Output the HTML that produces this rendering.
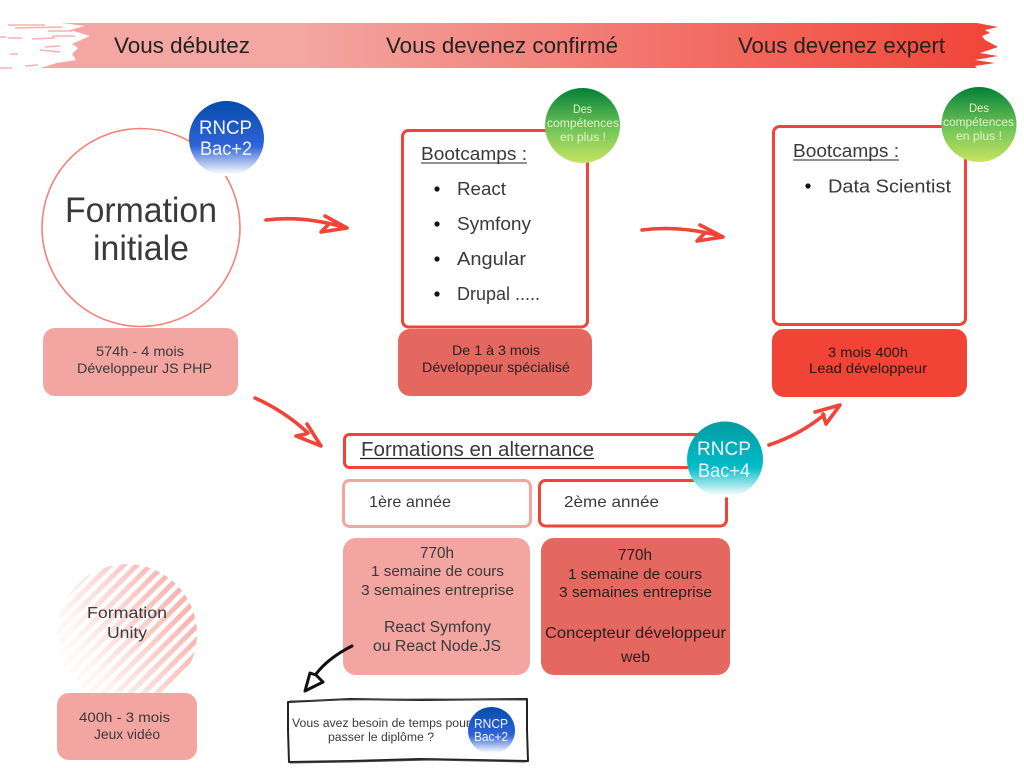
<!DOCTYPE html>
<html lang="fr">
<head>
<meta charset="utf-8">
<title>Parcours de formation</title>
<style>
html,body{margin:0;padding:0;background:#fff;width:1024px;height:768px;overflow:hidden}
svg{display:block}
text{font-family:"Liberation Sans",sans-serif;fill:#3a3a3a}
.w{fill:#f2f6ff}
.g{fill:#e4f3c8}
.arrow{fill:none;stroke:#f14336;stroke-width:3.6;stroke-linecap:round;stroke-linejoin:round}
.streak{stroke:#f3a6a2;stroke-width:1.5;opacity:.85}
</style>
</head>
<body>
<svg width="1024" height="768" viewBox="0 0 1024 768" xmlns="http://www.w3.org/2000/svg">
<defs>
<linearGradient id="ban" gradientUnits="userSpaceOnUse" x1="0" y1="0" x2="1000" y2="0">
<stop offset="0.3" stop-color="#f3a6a2"/><stop offset="1" stop-color="#f14336"/>
</linearGradient>
<linearGradient id="blue" x1="0" y1="0" x2="0" y2="1">
<stop offset="0" stop-color="#064cab"/><stop offset="0.6" stop-color="#2f63d8"/><stop offset="0.98" stop-color="#fff"/>
</linearGradient>
<linearGradient id="green" x1="0" y1="0" x2="0" y2="1">
<stop offset="0" stop-color="#038036"/><stop offset="0.55" stop-color="#72c558"/><stop offset="1" stop-color="#c7e361"/>
</linearGradient>
<linearGradient id="teal" x1="0" y1="0" x2="0" y2="1">
<stop offset="0" stop-color="#049ba3"/><stop offset="0.6" stop-color="#00bcc8"/><stop offset="0.98" stop-color="#fff"/>
</linearGradient>
<linearGradient id="fade" x1="0" y1="0.8" x2="1" y2="0.3">
<stop offset="0" stop-color="#000"/><stop offset="0.25" stop-color="#222"/><stop offset="1" stop-color="#ddd"/>
</linearGradient>
<pattern id="stripes" width="9.5" height="9.5" patternUnits="userSpaceOnUse" patternTransform="rotate(45)">
<rect width="5" height="9.5" fill="#f6a29c"/>
</pattern>
<mask id="fmask" maskUnits="userSpaceOnUse" x="50" y="560" width="155" height="150">
<rect x="57" y="564" width="140" height="140" fill="url(#fade)"/>
</mask>
</defs>

<!-- Banner -->
<polygon fill="url(#ban)" points="62,23 977,23 998,27 985,30 990,33 982,36 985,40 998,47 980,53 998,56 975,60 995,63 975,66 977,68 40,68 57,63 76,60 72,54 78,48 72,44 90,36 70,30 85,26"/>
<g class="streak">
<line x1="8" y1="25" x2="45" y2="25"/><line x1="15" y1="28" x2="62" y2="27"/><line x1="48" y1="31" x2="72" y2="31"/><line x1="0" y1="37" x2="6" y2="37"/>
<line x1="8" y1="38" x2="22" y2="38"/><line x1="32" y1="39" x2="55" y2="38"/><line x1="52" y1="36" x2="75" y2="36"/><line x1="45" y1="47" x2="60" y2="46"/>
<line x1="40" y1="50" x2="60" y2="52"/><line x1="10" y1="54" x2="18" y2="54"/><line x1="25" y1="66" x2="38" y2="65"/><line x1="0" y1="68" x2="12" y2="68"/>
</g>
<text x="114" y="53" font-size="22" textLength="136" lengthAdjust="spacingAndGlyphs" style="fill:#222">Vous débutez</text>
<text x="386" y="53" font-size="22" textLength="232" lengthAdjust="spacingAndGlyphs" style="fill:#222">Vous devenez confirmé</text>
<text x="738" y="53" font-size="22" textLength="207" lengthAdjust="spacingAndGlyphs" style="fill:#222">Vous devenez expert</text>

<!-- Formation initiale -->
<circle cx="141" cy="227.5" r="99" fill="#fff" stroke="#f4827a" stroke-width="1.6"/>
<circle cx="226.5" cy="138.5" r="37.5" fill="url(#blue)"/>
<text class="w" x="199" y="134" font-size="19.5" textLength="53" lengthAdjust="spacingAndGlyphs">RNCP</text>
<text class="w" x="200" y="155" font-size="19.5" textLength="52" lengthAdjust="spacingAndGlyphs">Bac+2</text>
<text x="65" y="222" font-size="35" textLength="152" lengthAdjust="spacingAndGlyphs">Formation</text>
<text x="93" y="260" font-size="35" textLength="96" lengthAdjust="spacingAndGlyphs">initiale</text>
<rect x="43" y="328" width="195" height="68" rx="12" fill="#f3a5a1"/>
<text x="96" y="356" font-size="14" textLength="88" lengthAdjust="spacingAndGlyphs">574h - 4 mois</text>
<text x="77" y="373" font-size="14" textLength="135" lengthAdjust="spacingAndGlyphs">Développeur JS PHP</text>

<!-- Bootcamps 1 -->
<rect x="402.5" y="130.5" width="185" height="196.5" rx="6" fill="#fff" stroke="#f14336" stroke-width="3"/>
<text x="421" y="160" font-size="18.5" textLength="106" lengthAdjust="spacingAndGlyphs">Bootcamps :</text>
<line x1="421" y1="163" x2="527" y2="163" stroke="#222" stroke-width="1"/>
<circle cx="437" cy="189" r="2.6" fill="#111"/><circle cx="437" cy="224" r="2.6" fill="#111"/>
<circle cx="437" cy="259" r="2.6" fill="#111"/><circle cx="437" cy="294" r="2.6" fill="#111"/>
<text x="457" y="195" font-size="18.5" textLength="49" lengthAdjust="spacingAndGlyphs">React</text>
<text x="457" y="230" font-size="18.5" textLength="74" lengthAdjust="spacingAndGlyphs">Symfony</text>
<text x="457" y="265" font-size="18.5" textLength="69" lengthAdjust="spacingAndGlyphs">Angular</text>
<text x="457" y="300" font-size="18.5" textLength="83" lengthAdjust="spacingAndGlyphs">Drupal .....</text>
<circle cx="582.5" cy="125.5" r="37.5" fill="url(#green)"/>
<text class="g" x="573" y="113" font-size="11.5" textLength="19" lengthAdjust="spacingAndGlyphs">Des</text>
<text class="g" x="547" y="127" font-size="11.5" textLength="72" lengthAdjust="spacingAndGlyphs">compétences</text>
<text class="g" x="560" y="141" font-size="11.5" textLength="46" lengthAdjust="spacingAndGlyphs">en plus !</text>
<rect x="398" y="329" width="194" height="67" rx="12" fill="#e46860"/>
<text x="452" y="355" font-size="14" textLength="88" lengthAdjust="spacingAndGlyphs" style="fill:#2a2020">De 1 à 3 mois</text>
<text x="422" y="372" font-size="14" textLength="148" lengthAdjust="spacingAndGlyphs" style="fill:#2a2020">Développeur spécialisé</text>

<!-- Bootcamps 2 -->
<rect x="773.5" y="126.5" width="192" height="198" rx="6" fill="#fff" stroke="#f14336" stroke-width="3"/>
<text x="793" y="157" font-size="18.5" textLength="106" lengthAdjust="spacingAndGlyphs">Bootcamps :</text>
<line x1="793" y1="160" x2="899" y2="160" stroke="#222" stroke-width="1"/>
<circle cx="808" cy="186" r="2.6" fill="#111"/>
<text x="828" y="192.5" font-size="18.5" textLength="123" lengthAdjust="spacingAndGlyphs">Data Scientist</text>
<circle cx="979" cy="124.5" r="37.5" fill="url(#green)"/>
<text class="g" x="969" y="112" font-size="11.5" textLength="20" lengthAdjust="spacingAndGlyphs">Des</text>
<text class="g" x="943" y="126" font-size="11.5" textLength="71" lengthAdjust="spacingAndGlyphs">compétences</text>
<text class="g" x="956" y="140" font-size="11.5" textLength="46" lengthAdjust="spacingAndGlyphs">en plus !</text>
<rect x="772" y="329" width="195" height="68" rx="12" fill="#f14336"/>
<text x="828" y="357" font-size="14" textLength="80" lengthAdjust="spacingAndGlyphs" style="fill:#2a1512">3 mois 400h</text>
<text x="809" y="373" font-size="14" textLength="118" lengthAdjust="spacingAndGlyphs" style="fill:#2a1512">Lead développeur</text>

<!-- Alternance -->
<rect x="344.5" y="434.5" width="380" height="33" rx="5" fill="#fff" stroke="#f14336" stroke-width="3"/>
<text x="361" y="456" font-size="20" textLength="233" lengthAdjust="spacingAndGlyphs">Formations en alternance</text>
<line x1="360" y1="458.5" x2="594" y2="458.5" stroke="#222" stroke-width="1.2"/>
<rect x="343.5" y="480.5" width="187" height="46" rx="6" fill="#fff" stroke="#f5a5a1" stroke-width="3"/>
<rect x="539.5" y="480.5" width="187" height="45.5" rx="6" fill="#fff" stroke="#f14336" stroke-width="3"/>
<text x="369" y="507" font-size="16" textLength="82" lengthAdjust="spacingAndGlyphs">1ère année</text>
<text x="564" y="507" font-size="16" textLength="95" lengthAdjust="spacingAndGlyphs">2ème année</text>
<circle cx="725" cy="459.5" r="38" fill="url(#teal)"/>
<text class="w" x="697" y="455" font-size="19.5" textLength="54" lengthAdjust="spacingAndGlyphs">RNCP</text>
<text class="w" x="698" y="477" font-size="19.5" textLength="52" lengthAdjust="spacingAndGlyphs">Bac+4</text>

<rect x="343" y="538" width="187" height="137" rx="13" fill="#f3a5a1"/>
<text x="420" y="558" font-size="15.5" textLength="34" lengthAdjust="spacingAndGlyphs">770h</text>
<text x="371" y="576" font-size="15" textLength="133" lengthAdjust="spacingAndGlyphs">1 semaine de cours</text>
<text x="361" y="595" font-size="15" textLength="153" lengthAdjust="spacingAndGlyphs">3 semaines entreprise</text>
<text x="384" y="632" font-size="15.5" textLength="107" lengthAdjust="spacingAndGlyphs">React Symfony</text>
<text x="373" y="651" font-size="15.5" textLength="128" lengthAdjust="spacingAndGlyphs">ou React Node.JS</text>

<rect x="541" y="538" width="189" height="137" rx="13" fill="#e46860"/>
<text x="618" y="560" font-size="15.5" textLength="34" lengthAdjust="spacingAndGlyphs" style="fill:#2a2020">770h</text>
<text x="568" y="579" font-size="15" textLength="134" lengthAdjust="spacingAndGlyphs" style="fill:#2a2020">1 semaine de cours</text>
<text x="559" y="597" font-size="15" textLength="153" lengthAdjust="spacingAndGlyphs" style="fill:#2a2020">3 semaines entreprise</text>
<text x="545" y="638" font-size="15.5" textLength="181" lengthAdjust="spacingAndGlyphs" style="fill:#2a2020">Concepteur développeur</text>
<text x="621" y="662" font-size="15.5" textLength="29" lengthAdjust="spacingAndGlyphs" style="fill:#2a2020">web</text>

<!-- Unity -->
<circle cx="127" cy="634" r="70" fill="url(#stripes)" mask="url(#fmask)"/>
<text x="87" y="618" font-size="16" textLength="80" lengthAdjust="spacingAndGlyphs">Formation</text>
<text x="107" y="638" font-size="16" textLength="40" lengthAdjust="spacingAndGlyphs">Unity</text>
<rect x="57" y="693" width="140" height="67" rx="12" fill="#f3a5a1"/>
<text x="79" y="722" font-size="14" textLength="91" lengthAdjust="spacingAndGlyphs">400h - 3 mois</text>
<text x="94" y="739" font-size="14" textLength="66" lengthAdjust="spacingAndGlyphs">Jeux vidéo</text>

<!-- Note -->
<polygon points="288,702 350,699 420,700 527,699 527,730 528,761 420,759 350,761 289,762 288,730" fill="#fff" stroke="#222" stroke-width="2" stroke-linejoin="round"/>
<polyline points="290,701 340,700 430,699 526,700" fill="none" stroke="#444" stroke-width="1"/>
<polyline points="290,763 350,762 430,760 526,762" fill="none" stroke="#444" stroke-width="1"/>
<text x="292" y="727" font-size="11.5" textLength="178" lengthAdjust="spacingAndGlyphs">Vous avez besoin de temps pour</text>
<text x="328" y="741" font-size="11.5" textLength="106" lengthAdjust="spacingAndGlyphs">passer le diplôme ?</text>
<circle cx="491.5" cy="730.5" r="23.5" fill="url(#blue)"/>
<text class="w" x="474" y="728" font-size="12.5" textLength="34" lengthAdjust="spacingAndGlyphs">RNCP</text>
<text class="w" x="474" y="741" font-size="12.5" textLength="34" lengthAdjust="spacingAndGlyphs">Bac+2</text>

<!-- Arrows -->
<path class="arrow" d="M266,220 C290,217 315,219 343,227"/>
<path class="arrow" d="M325,216 L347,228 L321,232 L329,224"/>
<path class="arrow" d="M642,230 C665,227 690,228 720,236"/>
<path class="arrow" d="M700,225 L723,237 L697,241 L705,233"/>
<path class="arrow" d="M255,398 C275,407 292,418 308,433"/>
<path class="arrow" d="M307,424 L321,446 L296,436 L306,434"/>
<path class="arrow" d="M769,445 C790,438 808,428 824,415"/>
<path class="arrow" d="M815,412 L840,405 L826,424 L823,414"/>
<path d="M352,646 C340,652 326,661 316,674" fill="none" stroke="#111" stroke-width="3" stroke-linecap="round"/>
<path d="M310,673 L305,691 L323,682 L316,675 Z" fill="none" stroke="#111" stroke-width="3" stroke-linecap="round" stroke-linejoin="round"/>
</svg>
</body>
</html>
